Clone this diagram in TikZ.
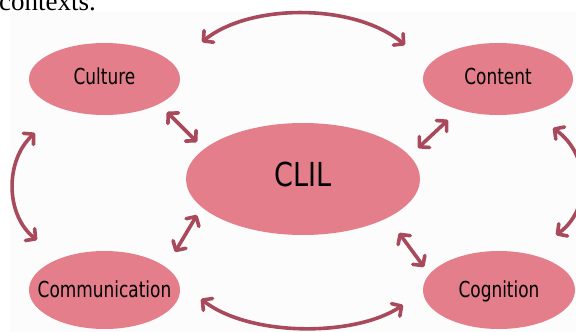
\documentclass[tikz,border=0pt]{standalone}
\usepackage{fontspec}
\usetikzlibrary{shapes.geometric,arrows.meta}
\newfontfamily\labfont[FakeStretch=0.77]{DejaVu Sans}
\newfontfamily\bigfont[FakeStretch=0.82]{DejaVu Sans}
\newfontfamily\txtfont{Liberation Serif}
\definecolor{ellfill}{HTML}{E37E8A}
\definecolor{arrcol}{HTML}{A84A5B}
\definecolor{bgcol}{HTML}{FCFCFC}
\tikzset{
  blob/.style={ellipse, fill=ellfill, draw=none, inner sep=0pt},
  lab/.style={font=\labfont\fontsize{22}{26}\selectfont, text=black, inner sep=0pt, anchor=base},
  link/.style={draw=arrcol, line width=3.6pt, line cap=round,
    {Straight Barb[length=7pt,width=15pt,round]}-{Straight Barb[length=7pt,width=15pt,round]}},
}
\begin{document}
\begin{tikzpicture}[x=1pt,y=-1pt]
\useasboundingbox (0,0) rectangle (576,332);
\fill[bgcol] (10,12) rectangle (580,336);
\node[anchor=base west, inner sep=0pt, font=\txtfont\fontsize{27}{30}\selectfont] (ctx) at (-1,10) {contexts.};

\node[blob, minimum width=151pt, minimum height=72pt] (culture) at (104.5,79) {};
\node[blob, minimum width=150pt, minimum height=72pt] (content) at (498,79) {};
\node[blob, minimum width=234pt, minimum height=112pt] (clil) at (303,179) {};
\node[blob, minimum width=151pt, minimum height=78pt] (comm) at (104.5,290) {};
\node[blob, minimum width=152pt, minimum height=78pt] (cogn) at (499,290) {};

\node[lab] (tculture) at ([shift={(0,5)}]culture.center) {Culture};
\node[lab] (tcontent) at ([shift={(0,5)}]content.center) {Content};
\node[lab, font=\bigfont\fontsize{33}{38}\selectfont] (tclil) at ([shift={(0,7.5)}]clil.center) {CLIL};
\node[lab] (tcomm) at ([shift={(0,7)}]comm.center) {Communication};
\node[lab] (tcogn) at ([shift={(0,7)}]cogn.center) {Cognition};

% outer arcs
\draw[link] ([shift={(97.5,-37)}]culture.center) .. controls (250,3) and (355,3) .. ([shift={(-93,-34)}]content.center);
\draw[link] ([shift={(96.5,9)}]comm.center) .. controls (250,337) and (355,337) .. ([shift={(-96,15)}]cogn.center);
\draw[link] ([shift={(-69.5,54)}]culture.center) .. controls (5,160) and (5,215) .. ([shift={(-67.5,-50)}]comm.center);
\draw[link] ([shift={(55,49)}]content.center) .. controls (591,155) and (591,210) .. ([shift={(57,-55)}]cogn.center);

% short arrows to CLIL
\draw[link] ([shift={(62.5,33)}]culture.center) -- ([shift={(-106,-37)}]clil.center);
\draw[link] ([shift={(-50,41)}]content.center) -- ([shift={(115,-31)}]clil.center);
\draw[link] ([shift={(70.5,-38)}]comm.center) -- ([shift={(-106,36)}]clil.center);
\draw[link] ([shift={(-75,-23)}]cogn.center) -- ([shift={(96,54)}]clil.center);
\end{tikzpicture}
\end{document}
